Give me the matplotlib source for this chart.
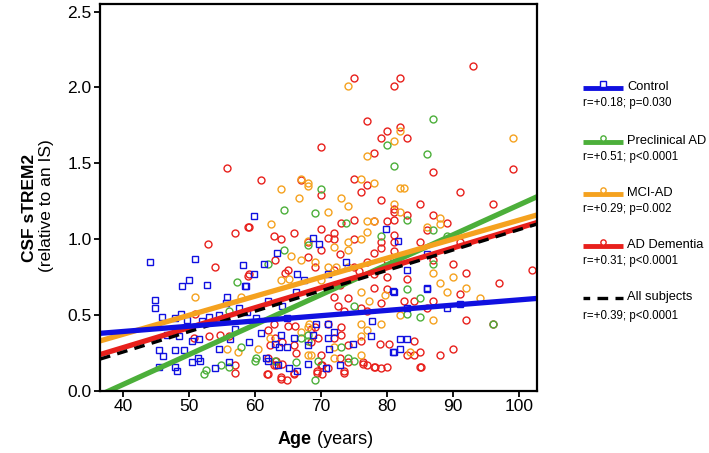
import numpy as np
import matplotlib
matplotlib.use('Agg')
import matplotlib.pyplot as plt
from matplotlib.lines import Line2D

plt.rcParams['font.family'] = ['Liberation Sans', 'DejaVu Sans']

# ---- data (age, CSF sTREM2) ----
control_age = [44.0, 50.9, 58.2, 48.9, 50.0, 52.7, 58.4, 44.9, 44.9, 45.9, 47.9, 48.8, 49.7, 52.0, 53.0,
               54.5, 55.5, 55.8, 55.6, 57.5, 58.8, 46.6, 48.5, 50.5, 51.5, 45.5, 46.1, 47.9, 49.3, 51.3,
               51.6, 54.5, 56.2, 57.0, 45.5, 47.9, 48.2, 50.5, 53.9, 56.0, 59.9, 68.7, 69.7, 63.3, 61.4,
               59.9, 66.4, 73.8, 71.0, 67.4, 79.9, 81.7, 58.6, 66.2, 80.9, 61.9, 64.0, 60.1, 64.8, 69.2,
               71.0, 77.7, 60.9, 63.9, 65.9, 68.7, 71.0, 72.0, 59.0, 63.0, 63.6, 64.9, 68.0, 71.2, 74.8,
               77.6, 61.6, 80.9, 63.4, 65.2, 68.0, 66.3, 72.9, 70.7, 61.9, 86.0, 81.0, 83.0, 89.0, 91.0,
               81.9, 83.0, 82.0, 81.0, 86.0, 83.0, 86.0]
control_val = [0.85, 0.87, 0.83, 0.69, 0.73, 0.70, 0.69, 0.60, 0.55, 0.49, 0.48, 0.51, 0.47, 0.46, 0.49,
               0.50, 0.47, 0.62, 0.58, 0.55, 0.52, 0.37, 0.36, 0.33, 0.34, 0.27, 0.23, 0.27, 0.27, 0.22,
               0.20, 0.28, 0.34, 0.41, 0.16, 0.16, 0.13, 0.19, 0.15, 0.19, 1.15, 1.01, 0.97, 0.91, 0.84,
               0.77, 0.77, 0.85, 0.77, 0.73, 1.07, 0.99, 0.69, 0.65, 0.66, 0.59, 0.56, 0.48, 0.48, 0.44,
               0.44, 0.46, 0.38, 0.37, 0.35, 0.37, 0.35, 0.39, 0.32, 0.31, 0.29, 0.29, 0.30, 0.28, 0.31,
               0.36, 0.22, 0.26, 0.17, 0.15, 0.18, 0.13, 0.17, 0.15, 0.20, 0.67, 0.65, 0.55, 0.55, 0.57,
               0.34, 0.34, 0.28, 0.26, 0.90, 0.80, 0.68]

precl_age = [52.3, 52.5, 54.9, 56.1, 57.8, 56.0, 57.2, 60.0, 60.1, 63.0, 66.2, 69.0, 69.5, 75.0, 74.0,
             73.0, 68.0, 67.0, 68.0, 75.0, 70.0, 64.4, 69.0, 64.4, 61.9, 68.0, 79.0, 80.0, 81.0, 87.0,
             86.0, 83.0, 87.0, 89.0, 87.0, 83.0, 85.0, 83.0, 85.0, 96.1, 73.8]
precl_val = [0.11, 0.14, 0.17, 0.16, 0.29, 0.53, 0.72, 0.20, 0.22, 0.20, 0.19, 0.07, 0.20, 0.20, 0.22,
             0.29, 0.37, 0.35, 0.33, 0.56, 1.33, 1.19, 1.17, 0.93, 0.84, 0.96, 1.02, 1.62, 1.48, 1.79,
             1.56, 1.13, 1.06, 1.02, 0.84, 0.67, 0.61, 0.51, 0.49, 0.44, 1.11]

mci_age = [50.9, 57.9, 55.8, 57.4, 74.0, 67.0, 68.0, 76.0, 78.0, 77.0, 81.0, 82.0, 99.0, 63.9, 68.0,
           66.7, 73.0, 74.0, 71.0, 62.4, 77.0, 78.0, 77.0, 76.0, 74.0, 72.0, 74.0, 68.0, 69.0, 67.0,
           65.4, 72.2, 71.0, 74.0, 65.2, 63.9, 70.0, 82.0, 82.6, 81.0, 82.0, 88.0, 88.0, 86.0, 87.0,
           90.0, 92.0, 88.0, 89.0, 94.0, 82.0, 87.0, 83.4, 76.0, 77.3, 79.6, 79.0, 76.0, 77.0, 76.0,
           72.0, 72.0, 76.0, 68.0, 68.5, 62.3, 60.4, 68.1, 67.0, 68.0]
mci_val = [0.62, 0.62, 0.28, 0.26, 2.01, 1.40, 1.37, 1.40, 1.37, 1.55, 1.65, 1.71, 1.67, 1.33, 1.35,
           1.27, 1.27, 1.22, 1.18, 1.10, 1.12, 1.12, 1.05, 1.00, 0.98, 0.95, 0.93, 0.99, 0.85, 0.86,
           0.89, 0.82, 0.82, 0.82, 0.74, 0.73, 0.73, 1.34, 1.34, 1.23, 1.18, 1.14, 1.10, 1.08, 0.78,
           0.75, 0.68, 0.71, 0.65, 0.61, 0.50, 0.47, 0.26, 0.65, 0.59, 0.63, 0.44, 0.44, 0.40, 0.36,
           0.29, 0.22, 0.24, 0.24, 0.24, 0.35, 0.28, 0.44, 0.39, 0.42]

ad_age = [52.8, 53.9, 56.9, 58.9, 58.9, 55.7, 50.7, 53.0, 54.7, 56.0, 50.9, 57.0, 57.0, 61.8, 63.1,
          63.1, 63.9, 64.9, 65.9, 69.4, 70.1, 70.1, 73.5, 74.0, 76.3, 76.9, 78.0, 80.0, 85.1, 75.0,
          70.0, 60.9, 77.0, 80.0, 79.0, 78.0, 75.0, 81.0, 93.0, 82.0, 82.0, 83.0, 87.0, 99.0, 67.0,
          77.0, 76.0, 70.0, 79.0, 59.0, 62.9, 63.9, 65.9, 70.0, 72.0, 72.0, 73.0, 75.0, 75.0, 71.0,
          68.0, 70.0, 68.0, 69.0, 63.0, 65.0, 64.5, 59.0, 72.0, 72.8, 78.0, 79.0, 79.0, 78.0, 80.0,
          81.0, 81.0, 81.0, 80.0, 77.0, 75.0, 75.8, 78.0, 80.0, 72.8, 91.0, 96.0, 85.0, 81.0, 81.0,
          83.0, 87.0, 89.0, 86.0, 85.0, 91.0, 81.0, 87.0, 90.0, 92.0, 97.0, 102.0, 83.0, 91.0, 87.0,
          82.6, 84.0, 86.0, 92.0, 96.0, 84.0, 90.0, 85.0, 83.0, 84.0, 88.0, 85.0, 78.0, 80.0, 72.0,
          74.0, 79.0, 72.5, 73.4, 77.0, 76.0, 71.0, 69.0, 73.0, 73.0, 72.0, 65.0, 66.0, 62.9, 68.4,
          61.9, 63.0, 69.5, 62.3, 64.0, 65.9, 68.5, 74.0, 76.0, 78.9, 80.3, 66.2, 70.0, 72.9, 61.9,
          62.9, 64.0, 70.0, 71.0, 76.3, 78.1, 79.0, 61.9, 63.9, 65.9, 69.4, 73.5]
ad_val = [0.97, 0.82, 1.04, 1.08, 0.76, 1.47, 0.35, 0.36, 0.37, 0.36, 0.51, 0.17, 0.12, 0.11, 0.17,
          0.20, 0.08, 0.07, 0.11, 0.13, 0.11, 0.17, 0.12, 0.19, 0.19, 0.17, 0.16, 0.16, 0.16, 2.06,
          1.61, 1.39, 1.78, 1.71, 1.67, 1.57, 1.40, 2.01, 2.14, 2.06, 1.74, 1.67, 1.44, 1.46, 1.39,
          1.36, 1.31, 1.29, 1.26, 1.08, 1.02, 1.00, 1.04, 1.07, 1.04, 1.00, 1.11, 1.13, 1.00, 1.01,
          0.98, 0.93, 0.88, 0.82, 0.86, 0.80, 0.78, 0.77, 0.80, 0.90, 0.91, 0.94, 0.98, 1.12, 1.12,
          1.20, 0.98, 0.92, 0.86, 0.85, 0.82, 0.79, 0.77, 0.75, 0.70, 1.31, 1.23, 1.23, 1.18, 1.13,
          1.16, 1.16, 1.11, 1.06, 0.98, 0.98, 1.03, 0.86, 0.84, 0.78, 0.71, 0.80, 0.74, 0.64, 0.59,
          0.59, 0.59, 0.55, 0.47, 0.44, 0.33, 0.28, 0.26, 0.24, 0.24, 0.24, 0.16, 0.68, 0.67, 0.62,
          0.61, 0.58, 0.56, 0.53, 0.53, 0.55, 0.44, 0.42, 0.37, 0.42, 0.35, 0.43, 0.43, 0.44, 0.41,
          0.40, 0.35, 0.35, 0.30, 0.32, 0.30, 0.32, 0.30, 0.33, 0.31, 0.31, 0.25, 0.24, 0.22, 0.22,
          0.17, 0.18, 0.17, 0.15, 0.18, 0.16, 0.15, 0.11, 0.09, 0.12, 0.12, 0.13]

# regression lines: value at the two ends of the age range
fit_ages = [36.5, 102.7]
fit_control = [0.38, 0.61]
fit_precl = [-0.026, 1.28]
fit_mci = [0.33, 1.16]
fit_ad = [0.24, 1.11]
fit_all = [0.21, 1.10]

group_names = ['Control', 'Preclinical AD', 'MCI-AD', 'AD Dementia', 'All subjects']
group_stats = ['r=+0.18; p=0.030', 'r=+0.51; p<0.0001', 'r=+0.29; p=0.002',
               'r=+0.31; p<0.0001', 'r=+0.39; p<0.0001']

BLUE = '#1010e0'
GREEN = '#4caf3a'
ORANGE = '#f5a21f'
RED = '#e8201c'

fig = plt.figure(figsize=(7.09, 4.53), dpi=100)
ax = fig.add_axes([100 / 709, 62 / 453, 437 / 709, 387 / 453])

ms = 5.0
ax.plot(ad_age, ad_val, 'o', ms=ms, mfc='none', mec=RED, mew=1.0)
ax.plot(mci_age, mci_val, 'o', ms=ms, mfc='none', mec=ORANGE, mew=1.0)
ax.plot(precl_age, precl_val, 'o', ms=ms, mfc='none', mec=GREEN, mew=1.0)
ax.plot(control_age, control_val, 's', ms=4.6, mfc='none', mec=BLUE, mew=1.0)

lw = 3.8
ax.plot(fit_ages, fit_precl, color=GREEN, lw=lw, solid_capstyle='butt')
ax.plot(fit_ages, fit_mci, color=ORANGE, lw=lw, solid_capstyle='butt')
ax.plot(fit_ages, fit_ad, color=RED, lw=lw, solid_capstyle='butt')
ax.plot(fit_ages, fit_all, color='black', lw=2.4, ls=(0, (3.2, 2.2)))
ax.plot(fit_ages, fit_control, color=BLUE, lw=lw, solid_capstyle='butt')

ax.set_xlim(36.5, 102.7)
ax.set_ylim(0, 2.55)
ax.set_xticks([40, 50, 60, 70, 80, 90, 100])
ax.set_yticks([0, 0.5, 1.0, 1.5, 2.0, 2.5])
ax.set_yticklabels(['0.0', '0.5', '1.0', '1.5', '2.0', '2.5'])
ax.tick_params(labelsize=12.5, width=1.3, length=4, direction='out', pad=2)
for s in ax.spines.values():
    s.set_linewidth(1.6)

# axis titles
fig.text(312 / 709, 1 - 440 / 453, 'Age', fontsize=13, fontweight='bold', ha='right', va='center')
fig.text(312 / 709, 1 - 440 / 453, ' (years)', fontsize=13, ha='left', va='center')
fig.text(30 / 709, 1 - 208 / 453, 'CSF sTREM2', fontsize=12.5, fontweight='bold',
         rotation=90, ha='center', va='center')
fig.text(47 / 709, 1 - 206 / 453, '(relative to an IS)', fontsize=12.5,
         rotation=90, ha='center', va='center')

# legend drawn by hand on the right
colors = [BLUE, GREEN, ORANGE, RED, 'black']
markers = ['s', 'o', 'o', 'o', None]
line_y = [88, 142, 194, 246, 298]
stat_y = [103, 157, 209, 261, 316]
x0, x1 = 583 / 709, 623 / 709
for i in range(5):
    y = 1 - line_y[i] / 453
    if i < 4:
        fig.add_artist(Line2D([x0, x1], [y, y], color=colors[i], lw=3.5,
                              solid_capstyle='butt', transform=fig.transFigure))
        fig.add_artist(Line2D([(x0 + x1) / 2], [y + 4 / 453], marker=markers[i], ms=3.8,
                              mfc='white', mec=colors[i], mew=1.0, transform=fig.transFigure))
    else:
        fig.add_artist(Line2D([x0, x1], [y, y], color='black', lw=2.4,
                              ls=(1.2, (3.2, 2.2)), transform=fig.transFigure))
    fig.text(627 / 709, y + 1 / 453, group_names[i], fontsize=9.3, ha='left', va='center')
    fig.text(x0, 1 - stat_y[i] / 453, group_stats[i], fontsize=8.3, ha='left', va='center')

fig.savefig('out.png', dpi=100)
